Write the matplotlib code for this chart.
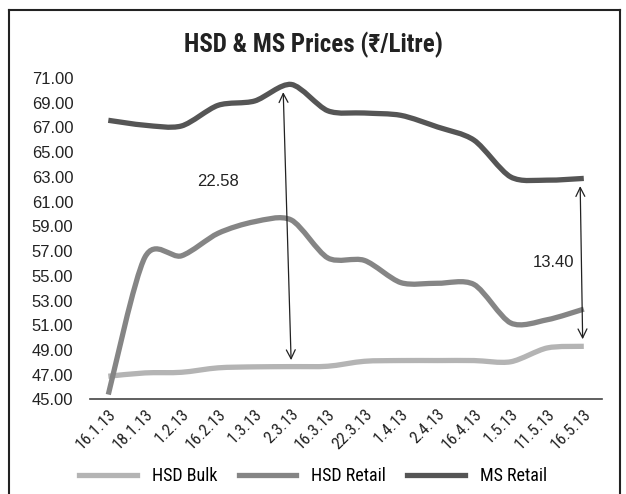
import numpy as np
import matplotlib.pyplot as plt
from matplotlib.path import Path
from matplotlib.patches import PathPatch
from matplotlib.lines import Line2D

plt.rcParams['font.family'] = ['Liberation Sans', 'DejaVu Sans']
cond = ['Roboto Condensed', 'Liberation Sans', 'DejaVu Sans']

dates = ['16.1.13', '18.1.13', '1.2.13', '16.2.13', '1.3.13', '2.3.13', '16.3.13',
         '22.3.13', '1.4.13', '2.4.13', '16.4.13', '1.5.13', '11.5.13', '16.5.13']
hsd_bulk = [46.88, 47.15, 47.20, 47.56, 47.64, 47.66, 47.69,
            48.09, 48.15, 48.15, 48.15, 48.05, 49.17, 49.30]
hsd_retail = [45.40, 56.50, 56.62, 58.44, 59.38, 59.52, 56.45,
              56.25, 54.45, 54.40, 54.30, 51.19, 51.45, 52.31]
ms_retail = [67.58, 67.18, 67.12, 68.79, 69.14, 70.48, 68.35,
             68.17, 67.98, 67.04, 65.97, 63.00, 62.74, 62.88]
gap_labels = ['22.58', '13.40']

names = ['HSD Bulk', 'HSD Retail', 'MS Retail']
colors = ['#b4b4b4', '#858585', '#555555']
yticks = np.arange(45, 72, 2)


def smooth_path(x, y, k=1 / 7):
    # bezier segments like a spreadsheet "smoothed line"
    p = np.column_stack([x, y]).astype(float)
    n = len(p)
    verts = [p[0]]
    codes = [Path.MOVETO]
    for i in range(n - 1):
        p0 = p[i - 1] if i > 0 else p[i]
        p3 = p[i + 2] if i + 2 < n else p[i + 1]
        c1 = p[i] + (p[i + 1] - p0) * k
        c2 = p[i + 1] - (p3 - p[i]) * k
        verts += [c1, c2, p[i + 1]]
        codes += [Path.CURVE4] * 3
    return Path(verts, codes)


fig = plt.figure(figsize=(6.26, 4.94), dpi=100)
ax = fig.add_axes([0.1438, 0.1913, 0.818, 0.6508])

x = np.arange(len(dates))
for vals, c in zip([hsd_bulk, hsd_retail, ms_retail], colors):
    ax.add_patch(PathPatch(smooth_path(x, vals), facecolor='none', edgecolor=c,
                           lw=3.8, capstyle='butt'))

ax.set_xlim(-0.5, len(dates) - 0.5)
ax.set_ylim(45, 71)
ax.set_yticks(yticks)
ax.set_yticklabels(['%.2f' % v for v in yticks], fontsize=12, color='#222222')
ax.set_xticks(x)
ax.set_xticklabels(dates, rotation=45, ha='right', rotation_mode='anchor',
                   fontsize=12, color='#222222', family=cond)
ax.tick_params(axis='both', length=0)
ax.tick_params(axis='y', pad=12)
ax.tick_params(axis='x', pad=5)
for s in ['left', 'right', 'top']:
    ax.spines[s].set_visible(False)
ax.spines['bottom'].set_color('#444444')
ax.spines['bottom'].set_linewidth(1.2)

# gap arrows
i1, i2 = 5, 13
ax.annotate('', xy=(i1 - 0.22, ms_retail[i1] - 0.4), xytext=(i1, hsd_bulk[i1] + 0.3),
            arrowprops=dict(arrowstyle='<->', color='#222222', lw=0.9,
                            mutation_scale=16))
ax.annotate('', xy=(i2 - 0.1, ms_retail[i2] - 0.4), xytext=(i2 - 0.03, hsd_bulk[i2] + 0.35),
            arrowprops=dict(arrowstyle='<->', color='#222222', lw=0.9,
                            mutation_scale=16))
ax.text(3.0, 62.6, gap_labels[0], fontsize=12, ha='center', va='center', color='#222222')
ax.text(12.75, 56.1, gap_labels[1], fontsize=12, ha='right', va='center', color='#222222')

fig.suptitle('HSD & MS Prices (\u20b9/Litre)', x=0.5, y=0.935, fontsize=18,
             fontweight='bold', color='#222222', family=cond)

handles = [Line2D([], [], color=c, lw=3.8) for c in colors]
fig.legend(handles, names, loc='lower center', bbox_to_anchor=(0.5, -0.015), ncol=3,
           frameon=False, prop={'family': cond, 'size': 13}, handlelength=3.2,
           columnspacing=1.2, handletextpad=0.8)

# outer frame
for xs, ys in [([0.014, 0.014], [0, 0.98]), ([0.014, 0.99], [0.98, 0.98]),
               ([0.99, 0.99], [0, 0.98])]:
    fig.add_artist(Line2D(xs, ys, color='#222222', lw=1.5, transform=fig.transFigure))

fig.savefig('out.png', dpi=100)
